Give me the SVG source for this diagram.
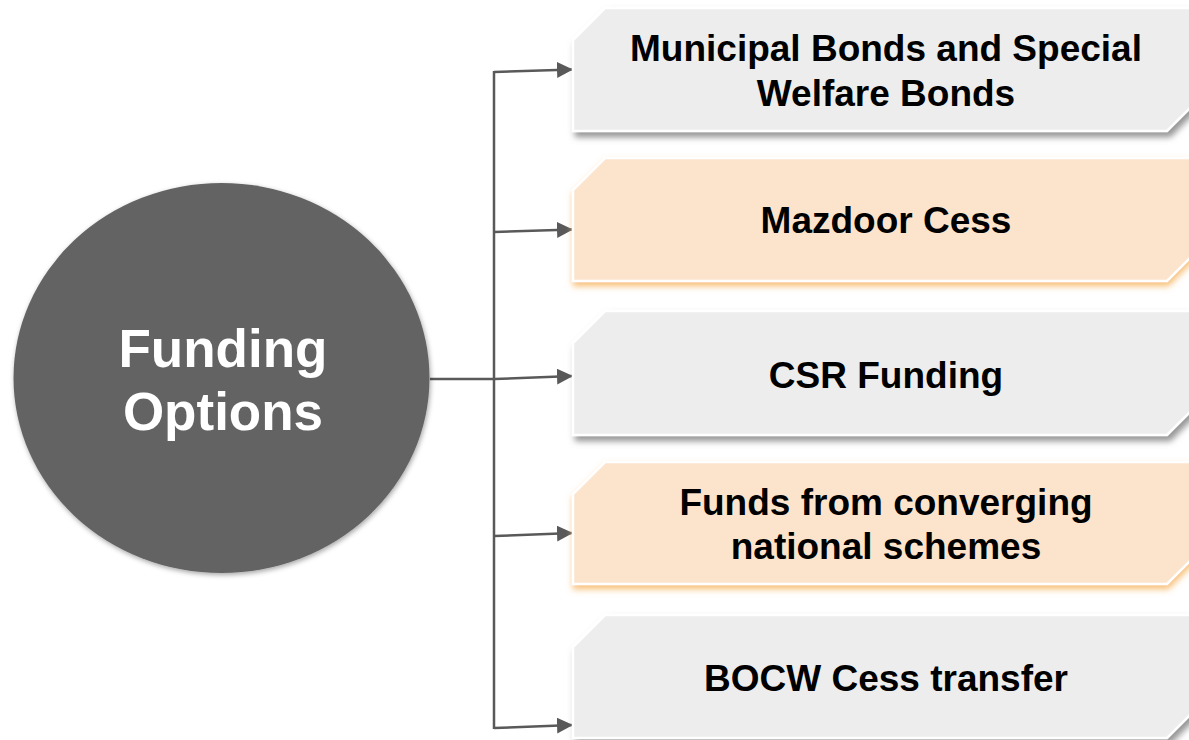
<svg xmlns="http://www.w3.org/2000/svg" width="1189" height="740" viewBox="0 0 1189 740">
<defs>
<style>
.box{stroke:#ffffff;stroke-width:2.5}
.gray{fill:#ededed;filter:url(#shGray)}
.orange{fill:#fce4cc;filter:url(#shOrange)}
.lbl{font-family:"Liberation Sans",Arial,sans-serif;font-weight:bold;font-size:37px;fill:#000000;text-anchor:middle}
.main{font-family:"Liberation Sans",Arial,sans-serif;font-weight:bold;font-size:53px;fill:#ffffff;text-anchor:middle}
.conn{stroke:#595959;stroke-width:2.5;fill:none}
</style>
<filter id="shGray" x="-5%" y="-10%" width="110%" height="130%">
<feGaussianBlur in="SourceAlpha" stdDeviation="3"/>
<feOffset dx="3" dy="5" result="b"/>
<feFlood flood-color="#7a7a7a" flood-opacity="0.8"/>
<feComposite in2="b" operator="in" result="s"/>
<feMerge><feMergeNode in="s"/><feMergeNode in="SourceGraphic"/></feMerge>
</filter>
<filter id="shOrange" x="-5%" y="-10%" width="110%" height="130%">
<feGaussianBlur in="SourceAlpha" stdDeviation="3"/>
<feOffset dx="1" dy="4" result="b"/>
<feFlood flood-color="#f7b867" flood-opacity="0.9"/>
<feComposite in2="b" operator="in" result="s"/>
<feMerge><feMergeNode in="s"/><feMergeNode in="SourceGraphic"/></feMerge>
</filter>
<filter id="shCircle" x="-10%" y="-10%" width="120%" height="120%">
<feGaussianBlur in="SourceAlpha" stdDeviation="2.5"/>
<feOffset dx="1" dy="2" result="b"/>
<feFlood flood-color="#000000" flood-opacity="0.35"/>
<feComposite in2="b" operator="in" result="s"/>
<feMerge><feMergeNode in="s"/><feMergeNode in="SourceGraphic"/></feMerge>
</filter>
<marker id="arrow" viewBox="0 0 16 16" refX="16" refY="8" markerWidth="16" markerHeight="16" markerUnits="userSpaceOnUse" orient="auto">
<path d="M0,0 L16,8 L0,16 Z" fill="#595959"/>
</marker>
</defs>

<g id="connectors">
<line class="conn" x1="430" y1="379" x2="494" y2="379"/>
<line class="conn" x1="494" y1="71" x2="494" y2="729"/>
<line class="conn" x1="494" y1="72" x2="573" y2="69.5" marker-end="url(#arrow)"/>
<line class="conn" x1="494" y1="232" x2="573" y2="229.5" marker-end="url(#arrow)"/>
<line class="conn" x1="494" y1="379" x2="573" y2="376" marker-end="url(#arrow)"/>
<line class="conn" x1="494" y1="536" x2="573" y2="533" marker-end="url(#arrow)"/>
<line class="conn" x1="494" y1="728" x2="573" y2="725" marker-end="url(#arrow)"/>
</g>

<g id="funding-options">
<ellipse cx="221.5" cy="378" rx="208" ry="195" fill="#646464" filter="url(#shCircle)"/>
<text class="main" x="223" y="367">Funding</text>
<text class="main" x="223" y="430">Options</text>
</g>

<g id="box-municipal">
<path class="box gray" d="M605,8 L1199,8 L1199,99 L1167,131 L573,131 L573,40 Z"/>
<text class="lbl" x="886" y="61">Municipal Bonds and Special</text>
<text class="lbl" x="886" y="106">Welfare Bonds</text>
</g>

<g id="box-mazdoor">
<path class="box orange" d="M605,158 L1199,158 L1199,249 L1167,281 L573,281 L573,190 Z"/>
<text class="lbl" x="886" y="233">Mazdoor Cess</text>
</g>

<g id="box-csr">
<path class="box gray" d="M605,311 L1199,311 L1199,403 L1167,435 L573,435 L573,343 Z"/>
<text class="lbl" x="886" y="388">CSR Funding</text>
</g>

<g id="box-converging">
<path class="box orange" d="M605,462 L1199,462 L1199,552 L1167,584 L573,584 L573,494 Z"/>
<text class="lbl" x="886" y="515">Funds from converging</text>
<text class="lbl" x="886" y="559">national schemes</text>
</g>

<g id="box-bocw">
<path class="box gray" d="M605,615 L1199,615 L1199,706 L1167,738 L573,738 L573,647 Z"/>
<text class="lbl" x="886" y="691">BOCW Cess transfer</text>
</g>
</svg>
